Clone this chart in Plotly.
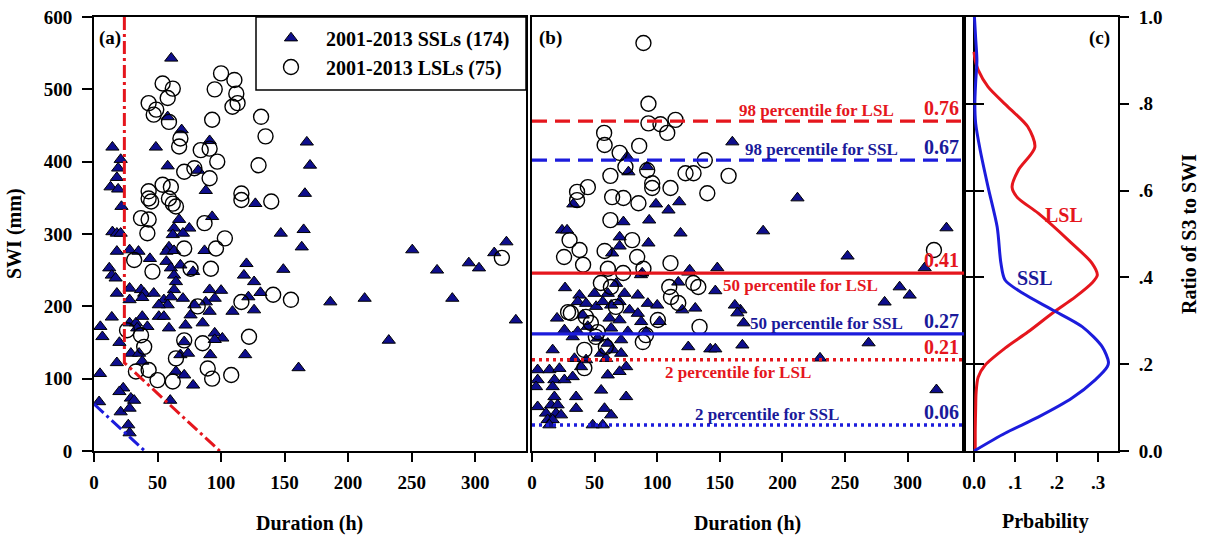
import plotly.graph_objects as go

# ---------------- data ----------------
# (a) event duration (h) vs SWI (mm)
ssl_dur_a = [60.8, 14.5, 48.7, 21, 58, 19, 18, 13, 19, 21.6, 58, 69, 91, 82, 88, 127, 93, 67, 75, 63,
             14.5, 18, 21, 62, 70, 147, 18, 28, 35, 44, 59, 57, 63, 87, 12, 14, 17, 57, 60.5, 68,
             63, 78, 64.5, 120, 118, 149, 18, 28, 37, 39.5, 47, 38, 55, 63, 60.5, 58, 70, 79, 51, 91,
             100, 95, 88, 126, 121.5, 131, 28, 14, 5, 6.6, 28, 33, 38, 42, 34, 51, 55, 59, 76, 72,
             85.5, 109, 126, 91, 95, 101, 95, 20, 71, 29, 35.5, 38, 68, 74, 91.5, 119, 18, 4.7, 64.5, 71,
             78, 23, 20, 29, 31.6, 4, 21, 28, 27, 28, 60, 167.5, 170, 166, 165, 163.5, 250.5, 270, 295, 303,
             315, 324.6, 186, 213, 232, 282, 332, 161]
ssl_swi_a = [543, 420, 420, 403, 394, 391, 378, 365, 362, 338, 462, 444, 429, 388, 360, 342, 324, 320, 308, 308,
             303, 301, 301, 299, 301, 301, 276, 278, 276, 266, 282, 276, 277, 277, 253, 243, 239, 262, 253, 257,
             243, 248, 234, 259, 243, 251, 218, 225, 223, 218, 218, 212, 209, 223, 213, 202, 211, 202, 202, 223,
             222, 211, 206, 234, 213, 219, 209, 185, 172, 158, 177, 177, 186, 172, 170, 186, 186, 170, 188, 174,
             177, 193, 195, 193, 163, 156, 154, 150, 151, 135, 135, 124, 133, 135, 133, 133, 122, 107, 110, 105,
             91, 87, 82, 73, 70, 68, 54, 59, 36, 25, 70, 427, 395, 356, 306, 282, 278, 250, 260, 253,
             274, 289, 206, 211, 153, 211, 181, 115]

lsl_dur_a = [100, 110.5, 54, 62, 95, 112, 113, 109, 58, 43, 49, 47, 59, 93, 131.5, 135, 68, 67, 84, 91,
             97, 71, 79, 91, 129.5, 43, 54, 60.5, 43, 45, 59, 62, 64.5, 116, 116, 139.5, 37, 43, 42, 87,
             103, 96, 71, 31.6, 46, 76, 92, 141, 155, 116, 81.6, 122, 26, 37, 39.5, 71, 85.5, 64.5, 89.5, 108,
             33, 43, 50, 62, 93, 321]
lsl_swi_a = [522, 513, 508, 501, 500, 494, 481, 476, 488, 481, 472, 465, 455, 458, 462, 435, 432, 421, 416, 418,
             400, 386, 391, 377, 395, 359, 368, 365, 349, 345, 349, 342, 338, 356, 347, 345, 322, 320, 301, 315,
             294, 280, 280, 264, 248, 252, 252, 216, 209, 206, 200, 158, 167, 160, 144, 153, 149, 128, 114, 105,
             110, 112, 98, 96, 100, 267]

# (b) event duration (h) vs ratio of S3 to SWI
ssl_dur_b = [160, 76, 77, 92, 33, 99, 109, 117.6, 24, 28, 73, 93.6, 118.6, 70, 70, 93, 64, 212, 184.6, 252,
             331, 313.6, 293.6, 301.6, 281.6, 268.8, 230, 323, 169, 168, 166.4, 148, 146.4, 162, 164, 124.8, 142.4, 146.4, 124.8, 116.8,
             120, 130.4, 88, 26.4, 20, 125.9, 87, 37.9, 49.9, 60.5, 67.2, 73.9, 84.5, 36.5, 43.2, 51.2, 56.5, 63.2, 69.9, 77.9,
             92.5, 100, 84.5, 40.5, 61.9, 69.9, 87.2, 101.9, 25.9, 36.5, 44.5, 63.2, 76.5, 91.2, 32.5, 52.5, 60.5, 71.2, 16.5, 64.5,
             55.2, 71.2, 33.9, 43.2, 59.2, 4.5, 13.9, 21.9, 39.2, 75.2, 4.5, 17.9, 25.9, 32.5, 60.5, 69.9, 3.2, 16.5, 55.2, 17.9,
             35.2, 75.2, 4.5, 15.2, 20.5, 35.2, 57.9, 11.2, 19.2, 23.2, 63.2, 12.5, 16.5, 13.9, 48.5, 56.5]
ssl_ratio_b = [0.712, 0.678, 0.643, 0.655, 0.569, 0.569, 0.555, 0.574, 0.509, 0.509, 0.528, 0.532, 0.502, 0.493, 0.472, 0.479, 0.456, 0.583, 0.507, 0.449,
               0.514, 0.422, 0.378, 0.359, 0.343, 0.249, 0.214, 0.141, 0.295, 0.244, 0.325, 0.422, 0.369, 0.336, 0.318, 0.240, 0.235, 0.235, 0.412, 0.389,
               0.325, 0.329, 0.410, 0.376, 0.306, 0.417, 0.406, 0.359, 0.363, 0.363, 0.386, 0.363, 0.359, 0.344, 0.340, 0.333, 0.344, 0.336, 0.344, 0.325,
               0.340, 0.336, 0.317, 0.313, 0.306, 0.302, 0.298, 0.298, 0.279, 0.275, 0.287, 0.283, 0.275, 0.275, 0.263, 0.260, 0.248, 0.256, 0.233, 0.233,
               0.225, 0.225, 0.213, 0.210, 0.213, 0.187, 0.187, 0.190, 0.194, 0.194, 0.164, 0.164, 0.164, 0.171, 0.175, 0.183, 0.148, 0.148, 0.140, 0.125,
               0.125, 0.125, 0.102, 0.106, 0.106, 0.098, 0.098, 0.087, 0.087, 0.083, 0.083, 0.072, 0.072, 0.060, 0.060, 0.060]

lsl_dur_b = [89, 93, 93, 102.6, 114.6, 108, 57.6, 58, 70, 85.6, 138, 92, 122.6, 129, 157, 62.6, 74.6, 96, 96, 110.6,
             44.6, 36, 36, 64, 73, 85, 140, 62.6, 80, 30, 38, 25.6, 58, 84, 110.6, 40.8, 60.6, 72.8, 89, 55,
             63, 109.6, 111, 116.8, 132.8, 128.8, 67, 31, 43, 47, 52.5, 100.5, 91, 88.5, 133.8, 41.8, 41.8, 51, 59, 28.8,
             321]
lsl_ratio_b = [0.940, 0.800, 0.755, 0.753, 0.763, 0.733, 0.733, 0.705, 0.687, 0.703, 0.670, 0.647, 0.640, 0.640, 0.634, 0.634, 0.655, 0.617, 0.606, 0.606,
               0.608, 0.597, 0.578, 0.585, 0.583, 0.571, 0.594, 0.532, 0.486, 0.486, 0.463, 0.447, 0.461, 0.447, 0.433, 0.429, 0.420, 0.410, 0.420, 0.387,
               0.378, 0.378, 0.355, 0.341, 0.378, 0.387, 0.332, 0.318, 0.309, 0.295, 0.274, 0.302, 0.267, 0.251, 0.286, 0.233, 0.191, 0.263, 0.240, 0.320,
               0.463]

# (a) threshold lines
lsl_thr_dur = [23.9, 23.9, 99]
lsl_thr_swi = [600, 122, 0]
ssl_thr_dur = [0, 40]
ssl_thr_swi = [65, 0]

# (b) percentiles of the ratio
pct_names = ["98", "50", "2"]
lsl_pct = [0.76, 0.41, 0.21]
ssl_pct = [0.67, 0.27, 0.06]

# (c) probability density of the ratio
ssl_pdf_ratio = [0, 0.041, 0.078, 0.122, 0.164, 0.194, 0.205, 0.24, 0.286, 0.325, 0.364, 0.394, 0.433, 0.516, 0.608, 0.693, 0.755, 0.8, 0.85, 0.9, 0.95, 1.0]
ssl_pdf_prob = [0, 0.075, 0.155, 0.237, 0.293, 0.322, 0.325, 0.31, 0.262, 0.19, 0.117, 0.075, 0.065, 0.056, 0.034, 0.015, 0.004, 0.002, 0.004, 0.007, 0.004, 0.001]
lsl_pdf_ratio = [0, 0.05, 0.1, 0.134, 0.17, 0.198, 0.237, 0.274, 0.318, 0.355, 0.387, 0.405, 0.433, 0.486, 0.548, 0.585, 0.608, 0.647, 0.70, 0.747, 0.793, 0.839, 0.878, 0.90, 0.92]
lsl_pdf_prob = [0.003, 0.003, 0.004, 0.005, 0.01, 0.027, 0.075, 0.13, 0.19, 0.245, 0.285, 0.298, 0.285, 0.228, 0.155, 0.104, 0.092, 0.107, 0.147, 0.13, 0.082, 0.034, 0.01, 0.003, 0.0]

# ---------------- styling ----------------
W, H = 1205, 538
FONT = "Liberation Serif, Times New Roman, serif"
RED = "#e5161d"
BLUE = "#1c1cdc"
NAVY_TXT = "#1a1a9a"
TRI_FILL = "#0e0e8c"


def fx(p):
    return p / W


def fy(p):
    return 1 - p / H


def bold(size, color="black"):
    return dict(family=FONT, size=size, color=color, weight="bold")


def label(text, x, y, size=20, color="black", angle=0):
    return dict(text=text, xref="paper", yref="paper", x=fx(x), y=fy(y), xanchor="center",
                yanchor="middle", textangle=angle, showarrow=False, font=bold(size, color))


tri = dict(symbol="triangle-up", size=11.5, color=TRI_FILL, line=dict(color="black", width=1))
circ = dict(symbol="circle-open", size=15, color="black", line=dict(color="black", width=1.4))

fig = go.Figure()

# panel (a)
fig.add_trace(go.Scatter(x=ssl_dur_a, y=ssl_swi_a, mode="markers", marker=tri,
                         name="2001-2013 SSLs (174)", xaxis="x", yaxis="y"))
fig.add_trace(go.Scatter(x=lsl_dur_a, y=lsl_swi_a, mode="markers", marker=circ,
                         name="2001-2013 LSLs (75)", xaxis="x", yaxis="y"))
fig.add_trace(go.Scatter(x=lsl_thr_dur, y=lsl_thr_swi, mode="lines", showlegend=False,
                         line=dict(color=RED, width=3, dash="13px,4px,3px,4px"), xaxis="x", yaxis="y"))
fig.add_trace(go.Scatter(x=ssl_thr_dur, y=ssl_thr_swi, mode="lines", showlegend=False,
                         line=dict(color=BLUE, width=3, dash="13px,4px,3px,4px"), xaxis="x", yaxis="y"))

# panel (b)
fig.add_trace(go.Scatter(x=ssl_dur_b, y=ssl_ratio_b, mode="markers", marker=tri,
                         showlegend=False, xaxis="x2", yaxis="y2"))
fig.add_trace(go.Scatter(x=lsl_dur_b, y=lsl_ratio_b, mode="markers", marker=circ,
                         showlegend=False, xaxis="x2", yaxis="y2"))

dash_for = {"98": "15px,8px", "50": "solid", "2": "3px,4px"}
# label geometry: (centre of description in px, above the line?)
lsl_lab = {"98": (816, True), "50": (800, False), "2": (738, False)}
ssl_lab = {"98": (821, True), "50": (826, True), "2": (767, True)}

annotations = []
for name, v_l, v_s in zip(pct_names, lsl_pct, ssl_pct):
    for v, col, tcol, grp, lab in ((v_l, RED, RED, "LSL", lsl_lab), (v_s, BLUE, NAVY_TXT, "SSL", ssl_lab)):
        fig.add_shape(type="line", xref="x2 domain", x0=0, x1=1, yref="y2", y0=v, y1=v,
                      line=dict(color=col, width=3.2 if name != "2" else 3.5, dash=dash_for[name]))
        cx, above = lab[name]
        annotations.append(dict(text=f"{name} percentile for {grp}", xref="paper", x=fx(cx),
                                yref="y2", y=v, xanchor="center",
                                yanchor="bottom" if above else "top",
                                yshift=-1, showarrow=False, font=bold(17, tcol)))
        annotations.append(dict(text=f"{v:.2f}", xref="paper", x=fx(961), yref="y2", y=v,
                                xanchor="right", yanchor="bottom", yshift=0,
                                showarrow=False, font=bold(20, tcol)))

# panel (c)
fig.add_trace(go.Scatter(x=lsl_pdf_prob, y=lsl_pdf_ratio, mode="lines", showlegend=False,
                         line=dict(color=RED, width=3, shape="spline", smoothing=0.8), xaxis="x3", yaxis="y3"))
fig.add_trace(go.Scatter(x=ssl_pdf_prob, y=ssl_pdf_ratio, mode="lines", showlegend=False,
                         line=dict(color=BLUE, width=3, shape="spline", smoothing=0.8), xaxis="x3", yaxis="y3"))
fig.add_trace(go.Scatter(x=[0.1], y=[0.5], mode="markers", marker=dict(opacity=0), showlegend=False,
                         hoverinfo="skip", xaxis="x3", yaxis="y4"))

# legend frame
fig.add_shape(type="rect", xref="paper", yref="paper", x0=fx(256), x1=fx(526), y0=fy(90), y1=fy(17),
              line=dict(color="black", width=1.5), fillcolor="white", layer="above")

annotations += [
    label("(a)", 110, 38, 19),
    label("(b)", 550, 38, 19),
    label("(c)", 1099, 38, 19),
    label("LSL", 1064, 215, 20, RED),
    label("SSL", 1035, 278, 20, NAVY_TXT),
    label("SWI (mm)", 15, 234, 20, angle=-90),
    label("Ratio of S3 to SWI", 1189, 234, 20, angle=-90),
    label("Duration (h)", 310, 523, 20),
    label("Duration (h)", 747, 523, 20),
    label("Prbability", 1045, 521, 20),
]

axis_common = dict(showline=True, linecolor="black", linewidth=2, mirror=True, showgrid=False,
                   zeroline=False, ticks="outside", tickwidth=2, tickcolor="black", ticklen=9,
                   tickfont=bold(19), ticklabelstandoff=4)
y_dom = [fy(451), fy(17)]
ticks_dur = [0, 50, 100, 150, 200, 250, 300]

fig.update_layout(
    width=W, height=H,
    margin=dict(l=0, r=0, t=0, b=0, pad=0, autoexpand=False),
    paper_bgcolor="white", plot_bgcolor="white",
    font=dict(family=FONT, color="black"),
    showlegend=True,
    legend=dict(x=fx(256), y=fy(18.5), xanchor="left", yanchor="top", bgcolor="rgba(0,0,0,0)",
                borderwidth=0, itemwidth=60, font=bold(20), tracegroupgap=0),
    xaxis=dict(axis_common, domain=[fx(94), fx(526)], range=[0, 340], tickvals=ticks_dur, anchor="y"),
    yaxis=dict(axis_common, domain=y_dom, range=[0, 600], tickvals=[0, 100, 200, 300, 400, 500, 600],
               ticklen=10, ticklabelstandoff=6, anchor="x"),
    xaxis2=dict(axis_common, domain=[fx(532), fx(964)], range=[0, 345], tickvals=ticks_dur, anchor="y2"),
    yaxis2=dict(axis_common, domain=y_dom, range=[0, 1], ticks="", showticklabels=False, anchor="x2"),
    xaxis3=dict(axis_common, domain=[fx(964), fx(1118)], range=[-0.0242, 0.348],
                tickvals=[0, 0.1, 0.2, 0.3], ticktext=["0.0", ".1", ".2", ".3"],
                zeroline=True, zerolinecolor="black", zerolinewidth=2, anchor="y3"),
    yaxis3=dict(axis_common, domain=y_dom, range=[0, 1], ticks="inside", ticklen=20,
                tickvals=[0.2, 0.4, 0.6, 0.8], showticklabels=False, anchor="x3"),
    yaxis4=dict(showline=False, showgrid=False, zeroline=False, overlaying="y3", side="right",
                anchor="x3", range=[0, 1], ticks="outside", ticklen=10, tickwidth=2, tickcolor="black",
                tickvals=[0, 0.2, 0.4, 0.6, 0.8, 1.0], ticktext=["0.0", ".2", ".4", ".6", ".8", "1.0"],
                tickfont=bold(19), ticklabelstandoff=6),
    annotations=annotations,
)

fig.write_html("out.html")
